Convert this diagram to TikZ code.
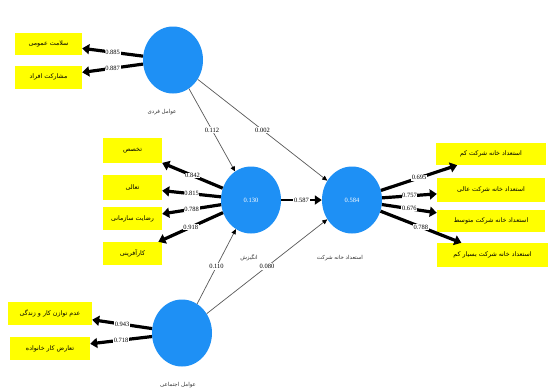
\documentclass[tikz,border=0pt]{standalone}
\usepackage{fontspec}
\setmainfont{Liberation Serif}
\newfontfamily\fa[Script=Arabic]{DejaVu Sans}
\TeXXeTstate=1
\usetikzlibrary{shapes.geometric,arrows.meta}
\definecolor{lvblue}{RGB}{30,144,245}
\definecolor{indyellow}{RGB}{255,255,0}
\newcommand{\pers}[1]{{\fa\beginR #1\endR}}
\tikzset{
  lv/.style={ellipse, fill=lvblue, minimum width=60pt, minimum height=67pt, inner sep=0pt, text=white, font=\fontsize{6.5}{7}\selectfont},
  lvname/.style={inner sep=1pt, text=black!80, font=\fontsize{5.5}{6}\selectfont},
  ind/.style={fill=indyellow, inner sep=1pt, font=\fontsize{6.3}{7}\selectfont},
  load/.style={draw=black, line width=3.2pt, -{Triangle[length=7pt,width=10pt]}},
  lval/.style={pos=0.5, fill=white, inner sep=0.6pt, font=\fontsize{6.5}{7}\selectfont},
  pth/.style={draw=black!65, line width=0.7pt, -{Triangle[length=5pt,width=4.5pt,color=black]}},
  pthick/.style={draw=black, line width=2.8pt, -{Triangle[length=7pt,width=9pt]}},
  pval/.style={pos=0.5, fill=white, inner sep=0.8pt, font=\fontsize{6.5}{7}\selectfont}
}
\begin{document}
\begin{tikzpicture}[x=1pt,y=-1pt]
\useasboundingbox (0,0) rectangle (553,391);
\fill[white] (0,0) rectangle (553,391);

% latent variables
\node[lv] (F) at (173,60) {};
\node[lv] (M) at (251,200) {0.130};
\node[lv] (S) at (352,200) {0.584};
\node[lv] (E) at (182,333) {};

\node[lvname] (Fn) at (162,112) {\pers{عوامل فردی}};
\node[lvname] (Mn) at (249,258) {\pers{انگیزش}};
\node[lvname] (Sn) at (340,258) {\pers{استعداد خانه شرکت}};
\node[lvname] (En) at (178,385) {\pers{عوامل اجتماعی}};

% indicators
\node[ind, minimum width=67pt, minimum height=22pt] (f1) at (48.5,44) {\pers{سلامت عمومی}};
\node[ind, minimum width=67pt, minimum height=23pt] (f2) at (48.5,77) {\pers{مشارکت افراد}};

\node[ind, minimum width=59pt, minimum height=25pt] (m1) at (132.5,150.5) {\pers{تخصص}};
\node[ind, minimum width=59pt, minimum height=25pt] (m2) at (132.5,187.5) {\pers{تعالی}};
\node[ind, minimum width=59pt, minimum height=23pt] (m3) at (132.5,218.5) {\pers{رضایت سازمانی}};
\node[ind, minimum width=59pt, minimum height=23pt] (m4) at (132.5,253.5) {\pers{کارآفرینی}};

\node[ind, minimum width=84pt, minimum height=23pt] (e1) at (50,313.5) {\pers{عدم توازن کار و زندگی}};
\node[ind, minimum width=80pt, minimum height=23pt] (e2) at (50,348.5) {\pers{تعارض کار خانواده}};

\node[ind, minimum width=110pt, minimum height=22pt] (s1) at (491,154) {\pers{استعداد خانه شرکت کم}};
\node[ind, minimum width=108pt, minimum height=24pt] (s2) at (491,190) {\pers{استعداد خانه شرکت عالی}};
\node[ind, minimum width=108pt, minimum height=22pt] (s3) at (491,221) {\pers{استعداد خانه شرکت متوسط}};
\node[ind, minimum width=111pt, minimum height=24pt] (s4) at (492.5,255) {\pers{استعداد خانه شرکت بسیار کم}};

% outer loadings
\draw[load] (F) -- (f1) node[lval] {0.885};
\draw[load] (F) -- (f2) node[lval] {0.887};

\draw[load] (M) -- (m1) node[lval] {0.842};
\draw[load] (M) -- (m2) node[lval] {0.815};
\draw[load] (M) -- (m3) node[lval] {0.788};
\draw[load] (M) -- (m4) node[lval] {0.918};

\draw[load] (E) -- (e1) node[lval] {0.943};
\draw[load] (E) -- (e2) node[lval] {0.718};

\draw[load] (S) -- (s1) node[lval] {0.695};
\draw[load] (S) -- (s2) node[lval] {0.757};
\draw[load] (S) -- (s3) node[lval] {0.676};
\draw[load] (S) -- (s4) node[lval] {0.788};

% structural paths
\draw[pth] (F) -- (M) node[pval] {0.112};
\draw[pth] (F) -- (S) node[pval] {0.002};
\draw[pth] (E) -- (M) node[pval] {0.110};
\draw[pth] (E) -- (S) node[pval] {0.080};
\draw[pthick] (M) -- (S) node[pval] {0.587};
\end{tikzpicture}
\end{document}
